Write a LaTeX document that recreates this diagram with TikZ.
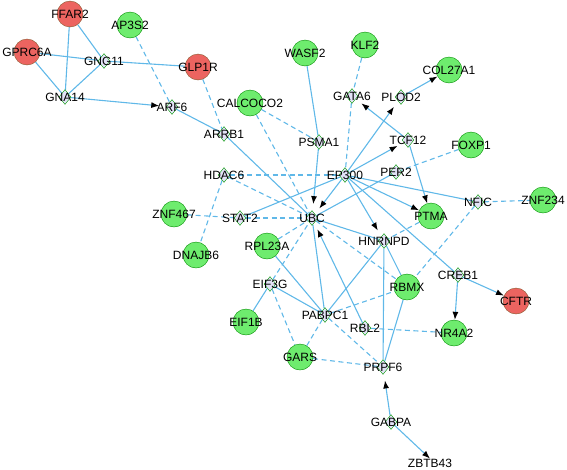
\documentclass[tikz,border=0pt]{standalone}
\usepackage{fontspec}
\setmainfont{Liberation Sans}
\usetikzlibrary{shapes.geometric,arrows.meta,backgrounds}
\definecolor{edgeblue}{RGB}{96,184,232}
\definecolor{hitgreen}{RGB}{110,236,110}
\definecolor{hitred}{RGB}{236,100,96}
\definecolor{lav}{RGB}{226,226,246}
\tikzset{
    GG/.style ={circle, minimum size=26pt, inner sep=0pt, draw=green!55!black, fill=hitgreen,
                label={[LB]center:#1}},
    GR/.style ={circle, minimum size=26pt, inner sep=0pt, draw=brown!70!black, fill=hitred,
                label={[LB]center:#1}},
    DI/.style ={diamond, minimum width=12pt, minimum height=15pt, inner sep=0pt,
                draw=green!60!black, fill=lav, label={[LB]center:#1}},
    LB/.style ={font=\fontsize{12}{12}\selectfont, inner sep=0pt},
    PP/.style ={draw=edgeblue, line width=1.1pt},
    PD/.style ={PP, dash pattern=on 5pt off 3.5pt},
    AR/.style ={PP, -{Latex[length=8pt,width=6pt,color=black]}},
    ARD/.style ={AR, shorten >=7pt}}

\begin{document}
\begin{tikzpicture}[x=1pt,y=-1pt]
        \useasboundingbox (0,0) rectangle (567,469);
        % circles
        \node[GR=FFAR2] (ffar2) at(70,14){};
        \node[GG=AP3S2] (ap3s2) at(130,25){};
        \node[GR=GPRC6A] (gprc6a) at(27,52){};
        \node[GR=GLP1R] (glp1r) at(198,67){};
        \node[GG=WASF2] (wasf2) at(305,53){};
        \node[GG=KLF2] (klf2) at(365,45){};
        \node[GG=COL27A1] (col27a1) at(449,70){};
        \node[GG=CALCOCO2] (calcoco2) at(250,103){};
        \node[GG=FOXP1] (foxp1) at(471,145){};
        \node[GG=ZNF234] (znf234) at(543,200){};
        \node[GG=ZNF467] (znf467) at(174,214){};
        \node[GG=DNAJB6] (dnajb6) at(196,255){};
        \node[GG=PTMA] (ptma) at(431,216){};
        \node[GG=RPL23A] (rpl23a) at(267,246){};
        \node[GG=RBMX] (rbmx) at(407,287){};
        \node[GR=CFTR] (cftr) at(516,301){};
        \node[GG=EIF1B] (eif1b) at(246,322){};
        \node[GG=GARS] (gars) at(300,357){};
        \node[GG=NR4A2] (nr4a2) at(454,333){};
        % diamonds
        \node[DI=GNG11] (gng11) at(104,61){};
        \node[DI=GNA14] (gna14) at(65,97){};
        \node[DI=ARF6] (arf6) at(172,107){};
        \node[DI=ARRB1] (arrb1) at(224,134){};
        \node[DI=PSMA1] (psma1) at(319,142){};
        \node[DI=GATA6] (gata6) at(352,96){};
        \node[DI=PLOD2] (plod2) at(401,97){};
        \node[DI=TCF12] (tcf12) at(408,140){};
        \node[DI=EP300] (ep300) at(345,175){};
        \node[DI=PER2] (per2) at(396,172){};
        \node[DI=HDAC6] (hdac6) at(224,175){};
        \node[DI=STAT2] (stat2) at(240,218){};
        \node[DI=UBC] (ubc) at(312,218){};
        \node[DI=NFIC] (nfic) at(478,202){};
        \node[DI=HNRNPD] (hnrnpd) at(384,241){};
        \node[DI=CREB1] (creb1) at(458,275){};
        \node[DI=EIF3G] (eif3g) at(270,284){};
        \node[DI=PABPC1] (pabpc1) at(325,315){};
        \node[DI=RBL2] (rbl2) at(365,328){};
        \node[DI=PRPF6] (prpf6) at(383,367){};
        \node[DI=GABPA] (gabpa) at(391,422){};
        \node[LB] (zbtb43) at(430,463){ZBTB43};
        \begin{scope}[on background layer]
        \draw[PP] (ffar2) -- (gna14);
        \draw[PP] (ffar2) -- (gng11);
        \draw[PP] (gprc6a) -- (gng11);
        \draw[PP] (gng11) -- (glp1r);
        \draw[PP] (gprc6a) -- (gna14);
        \draw[PP] (gng11) -- (gna14);
        \draw[ARD] (gna14) -- (arf6);
        \draw[PP] (arf6) -- (arrb1);
        \draw[PP] (arrb1) -- (ubc);
        \draw[PP] (wasf2) -- (psma1);
        \draw[ARD] (psma1) -- (ubc);
        \draw[ARD] (ep300) -- (plod2);
        \draw[AR] (plod2) -- (col27a1);
        \draw[ARD] (ep300) -- (tcf12);
        \draw[ARD] (tcf12) -- (gata6);
        \draw[AR] (tcf12) -- (ptma);
        \draw[ARD] (ep300) -- (ubc);
        \draw[AR] (ep300) -- (ptma);
        \draw[ARD] (ep300) -- (hnrnpd);
        \draw[PP] (ep300) -- (nfic);
        \draw[PP] (ep300) -- (creb1);
        \draw[PP] (stat2) -- (ep300);
        \draw[PP] (per2) -- (ubc);
        \draw[PP] (rpl23a) -- (pabpc1);
        \draw[PP] (eif3g) -- (eif1b);
        \draw[PP] (eif3g) -- (pabpc1);
        \draw[PP] (ubc) -- (pabpc1);
        \draw[ARD] (rbl2) -- (ubc);
        \draw[PP] (ubc) -- (hnrnpd);
        \draw[PP] (hnrnpd) -- (rbmx);
        \draw[PP] (hnrnpd) -- (pabpc1);
        \draw[PP] (hnrnpd) -- (prpf6);
        \draw[PP] (rbmx) -- (prpf6);
        \draw[AR] (creb1) -- (nr4a2);
        \draw[AR] (creb1) -- (cftr);
        \draw[ARD] (gabpa) -- (prpf6);
        \draw[AR] (gabpa) -- (zbtb43.north);
        \draw[PD] (ap3s2) -- (arf6);
        \draw[PD] (glp1r) -- (arrb1);
        \draw[PD] (calcoco2) -- (psma1);
        \draw[PD] (calcoco2) -- (ubc);
        \draw[PD] (klf2) -- (gata6);
        \draw[PD] (gata6) -- (ep300);
        \draw[PD] (foxp1) -- (per2);
        \draw[PD] (hdac6) -- (ep300);
        \draw[PD] (hdac6) -- (ubc);
        \draw[PD] (hdac6) -- (dnajb6);
        \draw[PD] (znf467) -- (stat2);
        \draw[PD] (stat2) -- (ubc);
        \draw[PD] (rpl23a) -- (ubc);
        \draw[PD] (eif3g) -- (ubc);
        \draw[PD] (eif3g) -- (gars);
        \draw[PD] (gars) -- (pabpc1);
        \draw[PD] (gars) -- (prpf6);
        \draw[PD] (pabpc1) -- (prpf6);
        \draw[PD] (pabpc1) -- (rbmx);
        \draw[PD] (ubc) -- (rbmx);
        \draw[PD] (rbl2) -- (nr4a2);
        \draw[PD] (nfic) -- (znf234);
        \draw[PD] (nfic) -- (rbmx);
        \draw[PD] (ptma) -- (hnrnpd);
        \end{scope}
    \end{tikzpicture}
\end{document}
